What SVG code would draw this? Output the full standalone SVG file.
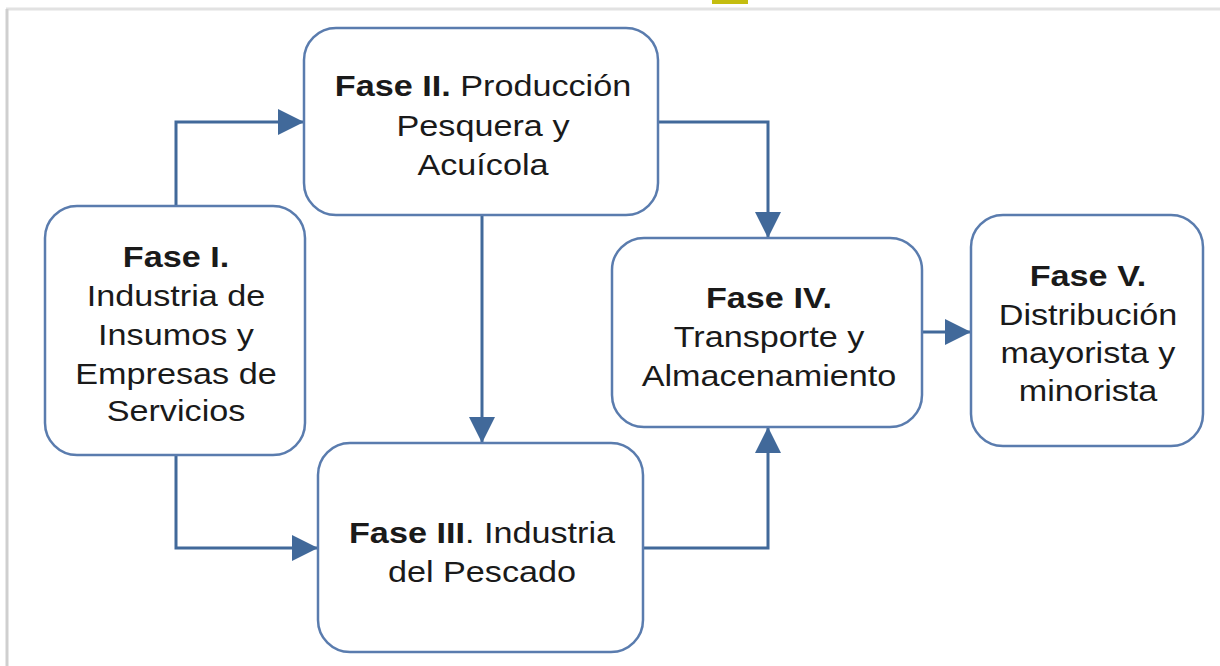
<svg xmlns="http://www.w3.org/2000/svg" width="1220" height="666" viewBox="0 0 1220 666">
<defs>
<style>
.box{fill:#fff;stroke:#5a7cae;stroke-width:2.5}
.con{fill:none;stroke:#41699a;stroke-width:3}
text{font-family:"Liberation Sans",Arial,sans-serif;font-size:30px;fill:#1a1a1a;text-anchor:middle}
.b{font-weight:bold}
</style>
<marker id="ah2" viewBox="0 0 26 26" refX="26" refY="13" markerWidth="26" markerHeight="26" markerUnits="userSpaceOnUse" orient="auto">
<path d="M0,0 L26,13 L0,26 z" fill="#41699a"/>
</marker>
</defs>
<rect width="1220" height="666" fill="#fff"/>
<rect x="712" y="0" width="36" height="4" fill="#c4bd10"/>
<line x1="6" y1="9" x2="1220" y2="9" stroke="#e2e2e2" stroke-width="3"/>
<line x1="7" y1="9" x2="7" y2="666" stroke="#cfcfcf" stroke-width="3"/>
<g id="connectors">
<path class="con" d="M176,206 V122 H304" marker-end="url(#ah2)"/>
<path class="con" d="M176,455 V548 H318" marker-end="url(#ah2)"/>
<path class="con" d="M482,215 V443" marker-end="url(#ah2)"/>
<path class="con" d="M658,122 H768 V238" marker-end="url(#ah2)"/>
<path class="con" d="M643,548 H768 V427" marker-end="url(#ah2)"/>
<path class="con" d="M922,332 H971" marker-end="url(#ah2)"/>
</g>
<g id="fase2">
<rect class="box" x="304" y="28" width="354" height="187" rx="32"/>
<g transform="translate(483,0) scale(1.14,1)">
<text x="0" y="96"><tspan class="b">Fase II.</tspan> Producción</text>
<text x="0" y="136">Pesquera y</text>
<text x="0" y="175">Acuícola</text>
</g>
</g>
<g id="fase1">
<rect class="box" x="45" y="206" width="260" height="249" rx="32"/>
<g transform="translate(176,0) scale(1.14,1)">
<text x="0" y="267" class="b">Fase I.</text>
<text x="0" y="306">Industria de</text>
<text x="0" y="345">Insumos y</text>
<text x="0" y="384">Empresas de</text>
<text x="0" y="421">Servicios</text>
</g>
</g>
<g id="fase3">
<rect class="box" x="318" y="443" width="325" height="209" rx="32"/>
<g transform="translate(482,0) scale(1.14,1)">
<text x="0" y="543"><tspan class="b">Fase III</tspan>. Industria</text>
<text x="0" y="582">del Pescado</text>
</g>
</g>
<g id="fase4">
<rect class="box" x="612" y="238" width="310" height="189" rx="32"/>
<g transform="translate(769,0) scale(1.14,1)">
<text x="0" y="308" class="b">Fase IV.</text>
<text x="0" y="347">Transporte y</text>
<text x="0" y="386">Almacenamiento</text>
</g>
</g>
<g id="fase5">
<rect class="box" x="971" y="215" width="232" height="231" rx="32"/>
<g transform="translate(1088,0) scale(1.14,1)">
<text x="0" y="286" class="b">Fase V.</text>
<text x="0" y="325">Distribución</text>
<text x="0" y="363">mayorista y</text>
<text x="0" y="401">minorista</text>
</g>
</g>
</svg>
